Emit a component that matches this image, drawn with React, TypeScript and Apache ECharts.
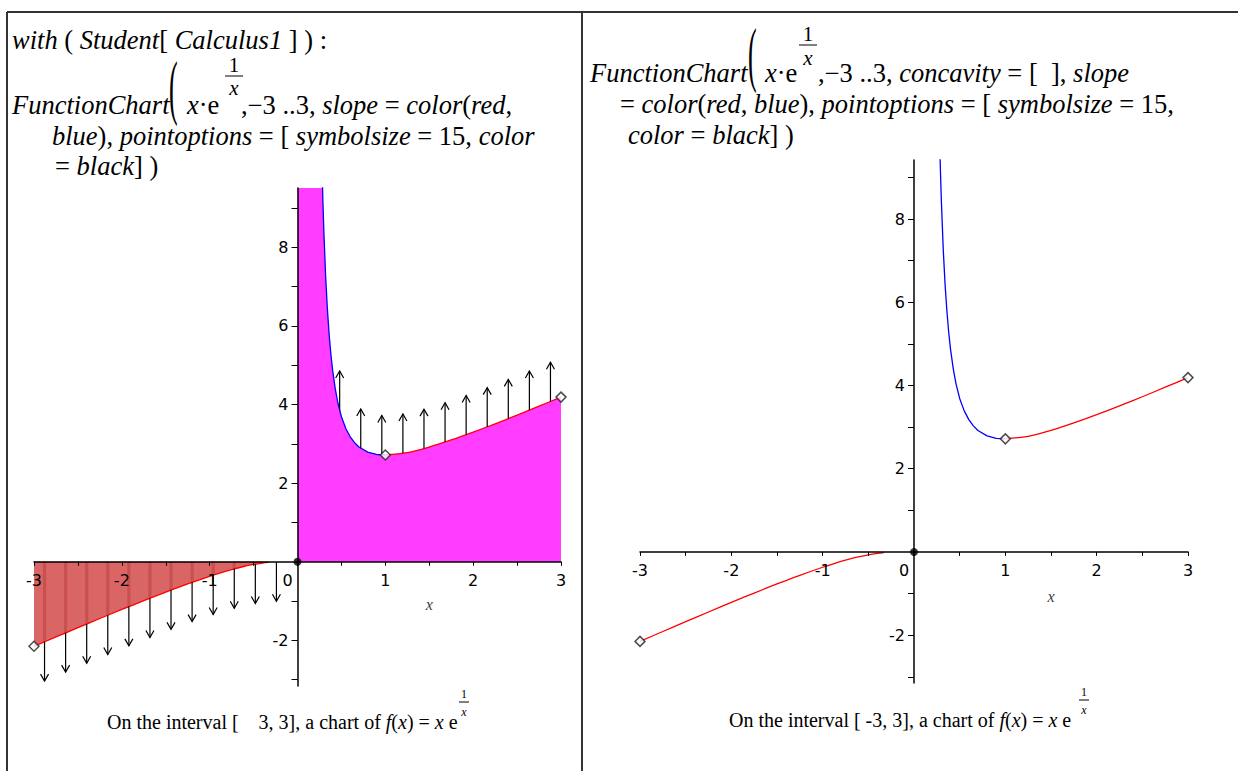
import React, { useEffect, useRef } from 'react';
import * as echarts from 'echarts';

// ---- data: f(x) = x*e^(1/x) ----
const NEG_X = [-3, -2.75, -2.5, -2.25, -2, -1.75, -1.5, -1.25, -1, -0.875, -0.75, -0.625, -0.5, -0.4, -0.33];
const NEG_Y = [-2.15, -1.912, -1.676, -1.443, -1.213, -0.988, -0.77, -0.562, -0.368, -0.279, -0.198, -0.126, -0.068, -0.033, -0.016];

const BLUE_X = [0.001, 0.25, 0.27, 0.28, 0.29, 0.3, 0.32, 0.34, 0.36, 0.38, 0.4, 0.43, 0.46, 0.5, 0.55, 0.6, 0.65, 0.7, 0.8, 0.9, 1];
const BLUE_Y = [40, 13.65, 10.96, 9.96, 9.12, 8.41, 7.28, 6.44, 5.79, 5.28, 4.87, 4.4, 4.04, 3.69, 3.39, 3.18, 3.03, 2.92, 2.79, 2.73, 2.718];

const RED_X = [1, 1.25, 1.5, 1.75, 2, 2.25, 2.5, 2.75, 3];
const RED_Y = [2.718, 2.78, 2.92, 3.1, 3.3, 3.51, 3.73, 3.96, 4.19];

const ARROW_X = [-2.88, -2.64, -2.4, -2.16, -1.92, -1.68, -1.44, -1.2, -0.96, -0.72, -0.48, -0.24,
  0.48, 0.72, 0.96, 1.2, 1.44, 1.68, 1.92, 2.16, 2.4, 2.64, 2.88];
const ARROW_BASE = [-2.035, -1.808, -1.582, -1.36, -1.14, -0.927, -0.719, -0.522, -0.339, -0.18, -0.06, -0.004,
  3.855, 2.887, 2.721, 2.761, 2.884, 3.046, 3.232, 3.432, 3.641, 3.856, 4.076];
const ARROW_LEN = [-1, -1, -1, -1, -1, -1, -1, -1, -1, -1, -1, -1,
  1, 1, 1, 1, 1, 1, 1, 1, 1, 1, 1];

const KEY_X = [-3, 1, 3];
const KEY_Y = [-2.15, 2.718, 4.19];
const ORIGIN = [0, 0];
const X_NAME_POS = [1.5, -1.08];

const X_RANGE = [-3, 3];
const X_TICK = 0.5;
const Y_TICKS = [-3, -2, -1, 1, 2, 3, 4, 5, 6, 7, 8, 9];
const Y_LABELS = [-2, 2, 4, 6, 8];
const LEFT_Y_RANGE = [-3.16, 9.51];
const RIGHT_Y_RANGE = [-3.15, 9.42];

const zip = (xs: number[], ys: number[]) => xs.map((x, i) => [x, ys[i]]);

const TICK_FONT = 'DejaVu Sans';
const SERIF = 'Liberation Serif';

const GRIDS = [
  { left: 34, top: 188, width: 527, height: 498 },
  { left: 640, top: 160, width: 548, height: 523 },
];
const Y_RANGES = [LEFT_Y_RANGE, RIGHT_Y_RANGE];

// distance (px) from the grid's bottom / left edge to the zero line, derived from the scales
const zeroFromBottom = (g: number) => (GRIDS[g].height * (0 - Y_RANGES[g][0])) / (Y_RANGES[g][1] - Y_RANGES[g][0]);
const zeroFromLeft = (g: number) => (GRIDS[g].width * (0 - X_RANGE[0])) / (X_RANGE[1] - X_RANGE[0]);

function xAxis(g: number) {
  return {
    gridIndex: g,
    type: 'value',
    position: 'bottom',
    offset: -zeroFromBottom(g),
    min: X_RANGE[0],
    max: X_RANGE[1],
    interval: X_TICK,
    z: 5,
    axisLine: { onZero: false, lineStyle: { color: '#000', width: 1.5 } },
    axisTick: { length: 4, lineStyle: { color: '#000', width: 1 } },
    splitLine: { show: false },
    axisLabel: {
      margin: 11,
      color: '#000',
      fontFamily: TICK_FONT,
      fontSize: 16,
      formatter: (v: number) => {
        if (Math.abs(v - Math.round(v)) > 1e-9) return '';
        if (Math.abs(v) < 1e-9) return '{z|0}';
        return String(Math.round(v));
      },
      rich: { z: { padding: [0, 20, 0, 0], color: '#000', fontFamily: TICK_FONT, fontSize: 16 } },
    },
  };
}

function yAxis(g: number) {
  return {
    gridIndex: g,
    type: 'value',
    position: 'left',
    offset: -zeroFromLeft(g),
    min: Y_RANGES[g][0],
    max: Y_RANGES[g][1],
    minInterval: 1,
    maxInterval: 1,
    z: 5,
    axisLine: { onZero: false, lineStyle: { color: '#000', width: 1.5 } },
    axisTick: { length: 6, customValues: Y_TICKS, lineStyle: { color: '#000', width: 1 } },
    splitLine: { show: false },
    axisLabel: {
      margin: 9,
      color: '#000',
      fontFamily: TICK_FONT,
      fontSize: 16,
      customValues: Y_LABELS,
      formatter: (v: number) => {
        const r = Math.round(v);
        if (Math.abs(v - r) > 1e-9 || r === 0 || r % 2 !== 0) return '';
        return String(r);
      },
    },
  };
}

// subtle vertical shading stripes of the negative area, aligned with the arrow columns
const NEG_SPAN = NEG_X[NEG_X.length - 1] - NEG_X[0];
const stripeStops: { offset: number; color: string }[] = [];
{
  const base = '#d96565';
  const dark = '#ca4f4f';
  stripeStops.push({ offset: 0, color: base });
  ARROW_X.filter((x) => x < 0).forEach((x) => {
    const t = (x - NEG_X[0]) / NEG_SPAN;
    const a = Math.max(0, t - 0.009);
    const b = Math.min(1, t + 0.009);
    stripeStops.push({ offset: a, color: base });
    stripeStops.push({ offset: (a + t) / 2, color: dark });
    stripeStops.push({ offset: (b + t) / 2, color: dark });
    stripeStops.push({ offset: b, color: base });
  });
  stripeStops.push({ offset: 1, color: base });
}

function curveSeries(g: number, withArea: boolean) {
  const base = {
    type: 'line',
    xAxisIndex: g,
    yAxisIndex: g,
    showSymbol: false,
    z: 3,
    silent: true,
  };
  const list: any[] = [];
  if (withArea) {
    // one area for the whole positive branch (no seam at x = 1)
    list.push({
      ...base,
      z: 2,
      data: [...zip(BLUE_X, BLUE_Y), ...zip(RED_X, RED_Y).slice(1)],
      lineStyle: { width: 0, color: '#ff3cff' },
      areaStyle: { color: '#ff3cff', opacity: 1 },
    });
  }
  list.push(
    {
      ...base,
      smooth: 0.3,
      data: zip(NEG_X, NEG_Y),
      lineStyle: { color: '#ff0000', width: 1.3 },
      areaStyle: withArea
        ? { color: new echarts.graphic.LinearGradient(0, 0, 1, 0, stripeStops), opacity: 1 }
        : undefined,
    },
    {
      ...base,
      data: zip(BLUE_X, BLUE_Y),
      lineStyle: { color: '#0000ff', width: 1.3 },
    },
    {
      ...base,
      smooth: 0.3,
      data: zip(RED_X, RED_Y),
      lineStyle: { color: '#ff0000', width: 1.3 },
    },
  );
  return list;
}

function pointSeries(g: number) {
  return [
    {
      type: 'scatter',
      xAxisIndex: g,
      yAxisIndex: g,
      z: 10,
      silent: true,
      symbol: 'diamond',
      symbolSize: 10,
      itemStyle: { color: '#fff', borderColor: '#222', borderWidth: 1.5 },
      data: zip(KEY_X, KEY_Y),
    },
    {
      type: 'scatter',
      xAxisIndex: g,
      yAxisIndex: g,
      z: 10,
      silent: true,
      symbol: 'circle',
      symbolSize: 8,
      itemStyle: { color: '#000' },
      data: [ORIGIN],
    },
    {
      type: 'scatter',
      xAxisIndex: g,
      yAxisIndex: g,
      z: 10,
      silent: true,
      symbolSize: 1,
      itemStyle: { color: 'rgba(0,0,0,0)' },
      label: {
        show: true,
        position: 'inside',
        formatter: 'x',
        fontFamily: SERIF,
        fontStyle: 'italic',
        fontSize: 16,
        color: '#000',
      },
      data: [X_NAME_POS],
    },
  ];
}

const arrowSeries = {
  type: 'custom',
  xAxisIndex: 0,
  yAxisIndex: 0,
  z: 8,
  silent: true,
  clip: false,
  encode: { x: 0, y: 1 },
  data: ARROW_X.map((x, i) => [x, ARROW_BASE[i], ARROW_LEN[i]]),
  renderItem: (_params: any, api: any) => {
    const x = api.value(0);
    const y0 = api.value(1);
    const len = api.value(2);
    const p0 = api.coord([x, y0]);
    const p1 = api.coord([x, y0 + len]);
    const wy = p1[1] + (p0[1] > p1[1] ? 7 : -7);
    return {
      type: 'group',
      children: [
        {
          type: 'line',
          shape: { x1: p0[0], y1: p0[1], x2: p1[0], y2: p1[1] },
          style: { stroke: '#000', lineWidth: 1.2 },
        },
        {
          type: 'polyline',
          shape: { points: [[p1[0] - 4, wy], [p1[0], p1[1]], [p1[0] + 4, wy]] },
          style: { stroke: '#000', fill: 'none', lineWidth: 1.2 },
        },
      ],
    };
  },
};

const rich = (size: number) => ({
  i: { fontFamily: SERIF, fontStyle: 'italic', fontSize: size, fill: '#000' },
  r: { fontFamily: SERIF, fontSize: size, fill: '#000' },
});

function txt(x: number, y: number, text: string, size: number) {
  return {
    type: 'text',
    x,
    y,
    silent: true,
    style: { text, rich: rich(size), verticalAlign: 'middle', textAlign: 'left', fill: '#000' },
  };
}

function cTxt(x: number, y: number, text: string, size: number, italic: boolean) {
  return {
    type: 'text',
    x,
    y,
    silent: true,
    style: {
      text,
      fontFamily: SERIF,
      fontStyle: italic ? 'italic' : 'normal',
      fontSize: size,
      fill: '#000',
      textAlign: 'center',
      verticalAlign: 'middle',
    },
  };
}

function bar(x1: number, x2: number, y: number) {
  return { type: 'line', silent: true, shape: { x1, y1: y, x2, y2: y }, style: { stroke: '#000', lineWidth: 1 } };
}

function paren(x: number, y: number, sy: number) {
  return {
    type: 'text',
    x,
    y,
    scaleY: sy,
    silent: true,
    style: { text: '(', fontFamily: SERIF, fontSize: 26, fill: '#000', verticalAlign: 'middle', textAlign: 'left' },
  };
}

const CODE = 26.5;
const SUP = 21;
const CAP = 20;
const CAP_SUP = 12;

const graphics = [
  // frame
  { type: 'line', silent: true, shape: { x1: 7, y1: 12, x2: 1238, y2: 12 }, style: { stroke: '#333', lineWidth: 2 } },
  { type: 'line', silent: true, shape: { x1: 7, y1: 12, x2: 7, y2: 771 }, style: { stroke: '#333', lineWidth: 2 } },
  { type: 'line', silent: true, shape: { x1: 582, y1: 12, x2: 582, y2: 771 }, style: { stroke: '#333', lineWidth: 2 } },

  // left code block
  txt(12, 40, '{i|with}{r| ( }{i|Student}{r|[ }{i|Calculus1}{r| ] ) :}', CODE),
  txt(12, 105, '{i|FunctionChart}', CODE),
  paren(169, 86, 2.8),
  txt(187, 105, '{i|x}{r|·e}', CODE),
  cTxt(234, 65, '1', SUP, false),
  bar(225, 243, 76),
  cTxt(234, 88, 'x', SUP, true),
  txt(241, 105, '{r|,−3 ..3, }{i|slope}{r| = }{i|color}{r|(}{i|red}{r|,}', CODE),
  txt(52, 136, '{i|blue}{r|), }{i|pointoptions}{r| = [ }{i|symbolsize}{r| = 15, }{i|color}', CODE),
  txt(55, 166, '{r|= }{i|black}{r|] )}', CODE),

  // right code block
  txt(590, 73, '{i|FunctionChart}', CODE),
  paren(748, 53, 2.8),
  txt(765, 73, '{i|x}{r|·e}', CODE),
  cTxt(808, 34, '1', SUP, false),
  bar(799, 817, 45),
  cTxt(808, 58, 'x', SUP, true),
  txt(818, 73, '{r|,−3 ..3, }{i|concavity}{r| = [  ], }{i|slope}', CODE),
  txt(620, 104, '{r|= }{i|color}{r|(}{i|red}{r|, }{i|blue}{r|), }{i|pointoptions}{r| = [ }{i|symbolsize}{r| = 15,}', CODE),
  txt(628, 135, '{i|color}{r| = }{i|black}{r|] )}', CODE),

  // captions
  txt(107, 722, '{r|On the interval [    3, 3], a chart of }{i|f}{r|(}{i|x}{r|) = }{i|x}{r| e}', CAP),
  cTxt(464, 694, '1', CAP_SUP, false),
  bar(459, 469, 702),
  cTxt(464, 712, 'x', CAP_SUP, true),
  txt(729, 720, '{r|On the interval [ -3, 3], a chart of }{i|f}{r|(}{i|x}{r|) = }{i|x}{r| e}', CAP),
  cTxt(1084, 692, '1', CAP_SUP, false),
  bar(1079, 1089, 700),
  cTxt(1084, 710, 'x', CAP_SUP, true),
];

const option = {
  animation: false,
  backgroundColor: '#fff',
  grid: GRIDS.map((g) => ({ ...g, containLabel: false })),
  xAxis: [xAxis(0), xAxis(1)],
  yAxis: [yAxis(0), yAxis(1)],
  series: [
    ...curveSeries(0, true),
    arrowSeries,
    ...pointSeries(0),
    ...curveSeries(1, false),
    ...pointSeries(1),
  ],
  graphic: graphics,
};

export default function App() {
  const ref = useRef<HTMLDivElement>(null);
  useEffect(() => {
    const chart = echarts.init(ref.current as HTMLDivElement, null, { renderer: 'svg' });
    chart.setOption(option as any);
    return () => chart.dispose();
  }, []);
  return (
    <div
      ref={ref}
      style={{ position: 'fixed', left: 0, top: 0, width: 1238, height: 771, background: '#fff' }}
    />
  );
}
